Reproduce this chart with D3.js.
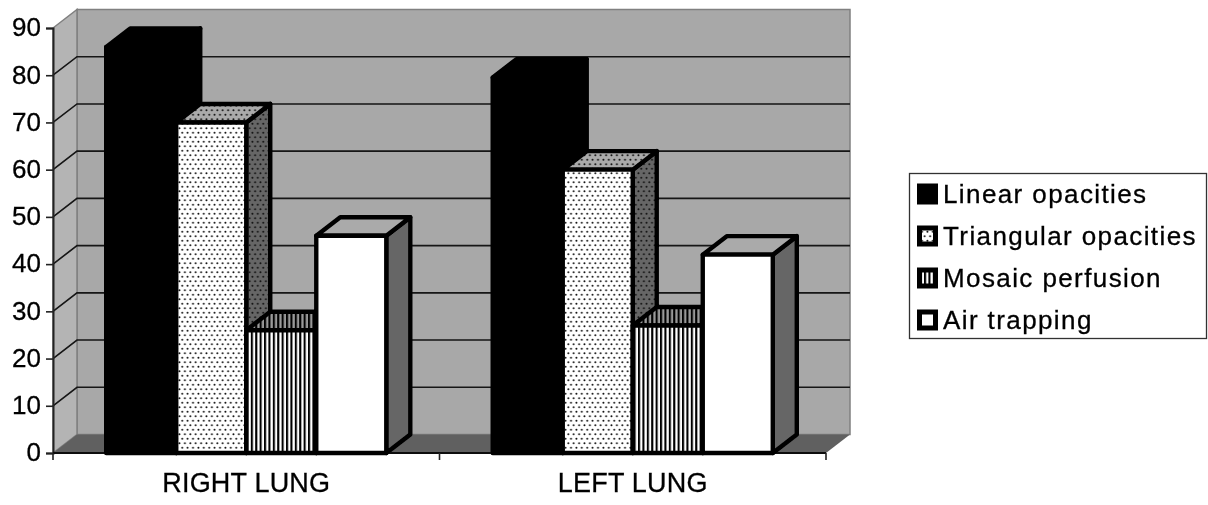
<!DOCTYPE html>
<html><head><meta charset="utf-8">
<script src="https://d3js.org/d3.v7.min.js"></script>
<style>html,body{margin:0;padding:0;background:#fff}svg{display:block}text{font-family:"Liberation Sans",Arial,sans-serif;fill:#000;stroke:#000;stroke-width:0.3px}</style>
</head><body><svg id="c" width="1208" height="505"></svg>
<script>
const categories=["RIGHT LUNG","LEFT LUNG"];
const seriesNames=["Linear opacities","Triangular opacities","Mosaic perfusion","Air trapping"];
const linearOpacities=[86,79.5];
const triangularOpacities=[70,60];
const mosaicPerfusion=[26,27];
const airTrapping=[46,42];
const yTicks=[0,10,20,30,40,50,60,70,80,90];
const seriesValues=[linearOpacities,triangularOpacities,mosaicPerfusion,airTrapping];

const svg=d3.select("#c");
const defs=svg.append("defs");
defs.append("filter").attr("id","soft").attr("x","-5%").attr("y","-5%").attr("width","110%").attr("height","110%")
  .append("feGaussianBlur").attr("stdDeviation",0.5);
function dots(id,bg,fg){
  const p=defs.append("pattern").attr("id",id).attr("patternUnits","userSpaceOnUse").attr("width",5.4).attr("height",9);
  p.append("rect").attr("width",5.4).attr("height",9).attr("fill",bg);
  [[1.3,2.2],[4,6.7]].forEach(d=>p.append("circle").attr("cx",d[0]).attr("cy",d[1]).attr("r",0.95).attr("fill",fg));
}
function stripes(id,bg,fg){
  const p=defs.append("pattern").attr("id",id).attr("patternUnits","userSpaceOnUse").attr("width",4.4).attr("height",4);
  p.append("rect").attr("width",4.4).attr("height",4).attr("fill",bg);
  p.append("rect").attr("x",0).attr("width",2.1).attr("height",4).attr("fill",fg);
}
dots("dF","#fff","#111");dots("dT","#aaa","#111");dots("dS","#666","#111");
stripes("sF","#fff","#000");stripes("sT","#999","#000");stripes("sS","#555","#000");

const fills=[
 {f:"#000",t:"#000",s:"#000"},
 {f:"url(#dF)",t:"url(#dT)",s:"url(#dS)"},
 {f:"url(#sF)",t:"url(#sT)",s:"url(#sS)"},
 {f:"#fff",t:"#aaa",s:"#666"}];

const plotL=53,plotR=826,plotB=453,plotT=28,dx=24,dy=18.5;
const x=d3.scaleBand().domain(categories).range([plotL,plotR]).paddingInner(0).paddingOuter(0);
const xs=d3.scaleBand().domain(seriesNames).range([0,x.bandwidth()]).paddingInner(0).paddingOuter(0.76);
const y=d3.scaleLinear().domain([0,90]).range([plotB,plotT]);

const g=svg.append("g").attr("filter","url(#soft)");
const pts=a=>a.map(p=>p.join(",")).join(" ");
// walls and floor
g.append("polygon").attr("points",pts([[plotL+dx,plotT-dy],[plotR+dx,plotT-dy],[plotR+dx,plotB-dy],[plotL+dx,plotB-dy]])).attr("fill","#a8a8a8").attr("stroke","#808080").attr("stroke-width",1.5);
g.append("polygon").attr("points",pts([[plotL,plotT],[plotL+dx,plotT-dy],[plotL+dx,plotB-dy],[plotL,plotB]])).attr("fill","#b4b4b4").attr("stroke","#808080").attr("stroke-width",1.5);
g.append("polygon").attr("points",pts([[plotL,plotB],[plotL+dx,plotB-dy],[plotR+dx,plotB-dy],[plotR,plotB]])).attr("fill","#606060");
// gridlines
g.append("g").selectAll("polyline").data(yTicks.slice(1,-1)).join("polyline")
 .attr("points",d=>pts([[plotL,y(d)],[plotL+dx,y(d)-dy],[plotR+dx,y(d)-dy]]))
 .attr("fill","none").attr("stroke","#151515").attr("stroke-width",1.6);
// axes
const ya=g.append("g").attr("transform",`translate(${plotL},0)`).call(d3.axisLeft(y).tickValues(yTicks).tickSize(7).tickPadding(5));
ya.select(".domain").attr("stroke","#222").attr("stroke-width",2);
ya.selectAll("line").attr("stroke","#222").attr("stroke-width",1.6);
ya.selectAll("text").style("font-size","26px").attr("dy","0.3em");
const xa=g.append("g").attr("transform",`translate(0,${plotB})`).call(d3.axisBottom(x).tickSize(0).tickPadding(20));
xa.select(".domain").remove();
xa.selectAll("text").style("font-size","27px").style("letter-spacing","0.2px").attr("dy","0.71em");
g.append("line").attr("x1",plotL).attr("x2",plotR).attr("y1",plotB).attr("y2",plotB).attr("stroke","#111").attr("stroke-width",2);
g.append("g").selectAll("line").data([plotL,(plotL+plotR)/2,plotR]).join("line")
 .attr("x1",d=>d).attr("x2",d=>d).attr("y1",plotB).attr("y2",plotB+7).attr("stroke","#222").attr("stroke-width",1.6);
// bars
categories.forEach((c,ci)=>{
 seriesNames.forEach((s,si)=>{
  const x0=x(c)+xs(s),x1=x0+xs.bandwidth(),yt=y(seriesValues[si][ci]);
  const b=g.append("g").attr("stroke","#000").attr("stroke-width",4.4).attr("stroke-linejoin","round");
  b.append("polygon").attr("points",pts([[x1,yt],[x1+dx,yt-dy],[x1+dx,plotB-dy],[x1,plotB]])).attr("fill",fills[si].s);
  b.append("polygon").attr("points",pts([[x0,yt],[x0+dx,yt-dy],[x1+dx,yt-dy],[x1,yt]])).attr("fill",fills[si].t);
  b.append("rect").attr("x",x0).attr("y",yt).attr("width",x1-x0).attr("height",plotB-yt).attr("fill",fills[si].f);
 });
});
// legend
const lg=g.append("g");
lg.append("rect").attr("x",909.5).attr("y",173.5).attr("width",297).attr("height",165).attr("fill","#fff").attr("stroke","#333").attr("stroke-width",1.3);
const ly=d3.scalePoint().domain(seriesNames).range([194,320]);
seriesNames.forEach((s,i)=>{
 const yy=ly(s);
 lg.append("rect").attr("x",919.5).attr("y",yy-8).attr("width",16).attr("height",16).attr("fill",i==0?"#000":i==1?"url(#dF)":i==2?"url(#sF)":"#fff").attr("stroke","#000").attr("stroke-width",5);
 lg.append("text").attr("x",943).attr("y",yy).attr("dy","0.36em").style("font-size","26px").style("letter-spacing","1.4px").text(s);
});
</script></body></html>
